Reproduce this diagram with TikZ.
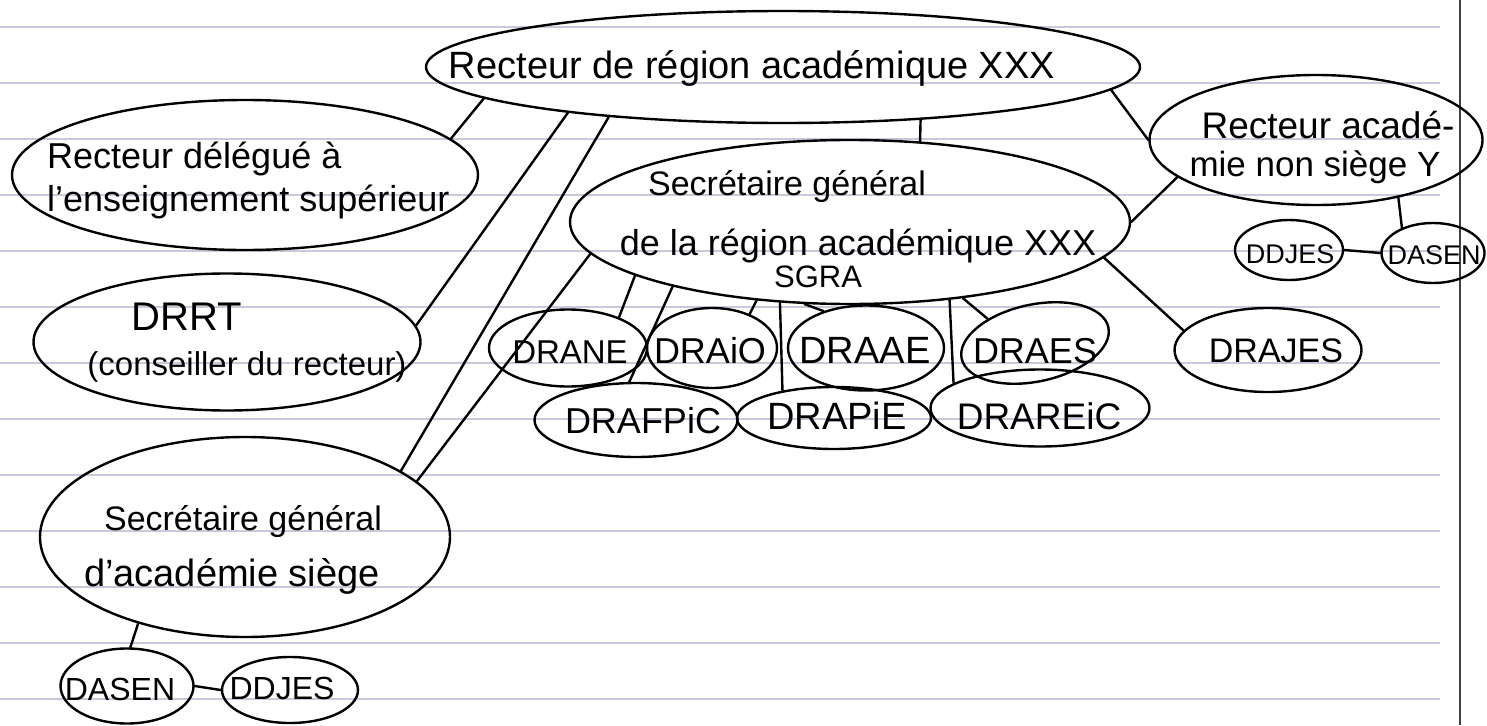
\documentclass[tikz,border=0pt]{standalone}
\usepackage{fontspec}
\setmainfont{Liberation Sans}
\usetikzlibrary{shapes.geometric}
\definecolor{ruleblue}{RGB}{200,201,218}
\tikzset{
  blob/.style={draw, ellipse, line width=2.4pt, inner sep=0pt},
  txt/.style={anchor=base, inner sep=0pt, font=\fontsize{#1}{#1}\selectfont},
  link/.style={line width=2.4pt, line cap=round}
}
\begin{document}
\begin{tikzpicture}[x=1pt, y=-1pt]
\useasboundingbox (0,0) rectangle (1487,725);
\foreach \n in {0,...,12}
 \draw[ruleblue, line width=1.5pt] (0,27+56*\n) -- (1440,27+56*\n);
\draw[black!75, line width=1.6pt] (1460,0) -- (1460,725);
\foreach \n / \x / \y / \w / \h in {rra/783/67/714/112, dl/245/175/466/150, drrt/227/342/387/137,
  sgas/245/537/410/200, sgra/850/222/560/164, rny/1316/140/333/130, ddjes2/1289/250/108/60,
  dasen2/1433/253/103/60, dasen1/127/686/133/75, ddjes1/290/690/136/66, drane/568/348/158/77,
  draio/712/348/130/80, draae/866/348/156/85, drafpic/636/420/203/74,
  drapie/834/418/194/62, drareic/1040/408/219/77, drajes/1268/350/187/84}
 \node[blob, minimum width=\w pt, minimum height=\h pt] (\n) at (\x,\y) {};
\node[blob, minimum width=150pt, minimum height=77pt, rotate=12] (draes) at (1035,343) {};
\node[txt=38] (rra-t) at (752,78) {Recteur de région académique XXX};
\node[txt=36, anchor=base west] (dl-t1) at (47,168) {Recteur délégué à};
\node[txt=36, anchor=base west] (dl-t2) at (47,211) {l'enseignement supérieur};
\node[txt=40] (drrt-t1) at (187,330) {DRRT};
\node[txt=33] (drrt-t2) at (247,375) {(conseiller du recteur)};
\node[txt=34] (sgas-t1) at (243,530) {Secrétaire général};
\node[txt=38] (sgas-t2) at (232,586) {d'académie siège};
\node[txt=34] (sgra-t1) at (787,195) {Secrétaire général};
\node[txt=36] (sgra-t2) at (858,255) {de la région académique XXX};
\node[txt=31] (sgra-t3) at (818,287) {SGRA};
\node[txt=37] (rny-t1) at (1328,138) {Recteur acadé-};
\node[txt=35] (rny-t2) at (1315,176) {mie non siège Y};
\foreach \n / \x / \y / \s / \t in {drane/570/363/33/DRANE, draio/710/363/36/DRAiO,
  draae/865/363/38/DRAAE, draes/1035/363/36/DRAES, drafpic/643/433/36/DRAFPiC,
  drapie/837/429/38/DRAPiE, drareic/1039/429/37/DRAREiC, drajes/1276/362/34/DRAJES,
  ddjes2/1290/263/27/DDJES, dasen2/1434/264/27/DASEN, dasen1/120/700/32/DASEN,
  ddjes1/282/699/32/DDJES}
 \node[txt=\s] (\n-t) at (\x,\y) {\t};
\draw[link] (rra.186) -- (dl.10);
\draw[link] (rra.192) -- (drrt.5);
\draw[link] (rra.196) -- (sgas.23);
\draw[link] (sgra.187) -- (sgas.18);
\draw[link] (rra.-21) -- (sgra.49);
\draw[link] (rra.-4) -- (rny.180);
\draw[link] (sgra.east) -- (rny.195);
\draw[link] (sgra.-8) -- (drajes.167);
\draw[link] (rny.-35) -- (dasen2.141);
\draw[link] (ddjes2.east) -- (dasen2.west);
\draw[link] (sgas.219) -- (dasen1.85);
\draw[link] (dasen1.east) -- (ddjes1.west);
\foreach \a / \b / \c in {194/drane/31, 200/drafpic/100, 220/draio/42, 229/drapie/152,
  241/draae/139, -38/drareic/164, -34/draes/141}
 \draw[link] (sgra.\a) -- (\b.\c);
\end{tikzpicture}
\end{document}
